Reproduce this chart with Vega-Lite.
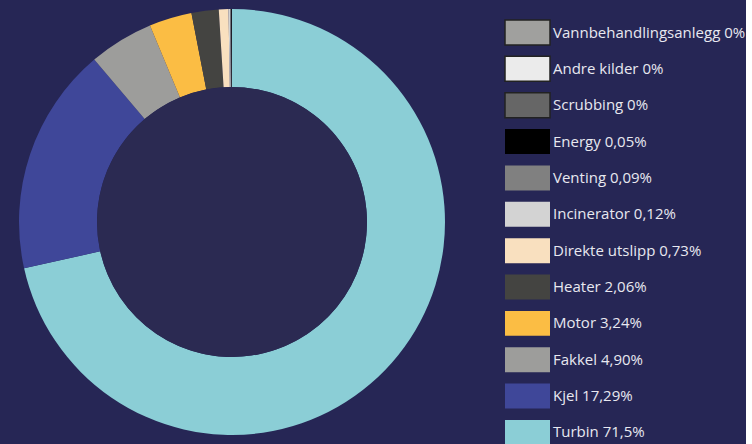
{
  "$schema": "https://vega.github.io/schema/vega-lite/v6.json",
  "width": 464,
  "height": 444,
  "padding": 0,
  "autosize": {"type": "pad"},
  "background": "#262655",
  "config": {"view": {"stroke": null}},
  "layer": [
    {
      "data": {"values": [
        {"label": "Turbin 71,5%", "value": 71.5, "idx": 1},
        {"label": "Kjel 17,29%", "value": 17.29, "idx": 2},
        {"label": "Fakkel 4,90%", "value": 4.90, "idx": 3},
        {"label": "Motor 3,24%", "value": 3.24, "idx": 4},
        {"label": "Heater 2,06%", "value": 2.06, "idx": 5},
        {"label": "Direkte utslipp 0,73%", "value": 0.73, "idx": 6},
        {"label": "Incinerator 0,12%", "value": 0.12, "idx": 7},
        {"label": "Venting 0,09%", "value": 0.09, "idx": 8},
        {"label": "Energy 0,05%", "value": 0.05, "idx": 9},
        {"label": "Scrubbing 0%", "value": 0, "idx": 10},
        {"label": "Andre kilder 0%", "value": 0, "idx": 11},
        {"label": "Vannbehandlingsanlegg 0%", "value": 0, "idx": 12}
      ]},
      "mark": {"type": "arc", "outerRadius": 213, "innerRadius": 135},
      "encoding": {
        "theta": {"field": "value", "type": "quantitative", "stack": true},
        "order": {"field": "idx", "type": "quantitative", "sort": "ascending"},
        "color": {
          "field": "label",
          "type": "nominal",
          "scale": {
            "domain": ["Vannbehandlingsanlegg 0%", "Andre kilder 0%", "Scrubbing 0%", "Energy 0,05%", "Venting 0,09%", "Incinerator 0,12%", "Direkte utslipp 0,73%", "Heater 2,06%", "Motor 3,24%", "Fakkel 4,90%", "Kjel 17,29%", "Turbin 71,5%"],
            "range": ["#a0a09e", "#ebebeb", "#666666", "#000000", "#808080", "#d3d3d3", "#f9e0bf", "#444441", "#fbbd44", "#9d9d9b", "#3f4799", "#8bced6"]
          },
          "legend": {
            "title": null,
            "orient": "none",
            "legendX": 508.5,
            "legendY": 13.5,
            "padding": 0,
            "symbolType": "M-1.25,-0.694H1.25V0.694H-1.25Z",
            "symbolSize": 1296,
            "symbolStrokeWidth": 0,
            "labelFont": "Open Sans",
            "labelFontSize": 15,
            "labelColor": "#e8e8f0",
            "labelOffset": 6.5,
            "labelLimit": 300,
            "rowPadding": 1.36,
            "symbolOpacity": 1,
            "encode": {
              "symbols": {
                "update": {
                  "stroke": [
                    {"test": "indexof(['Vannbehandlingsanlegg 0%','Andre kilder 0%','Scrubbing 0%'], datum.value) >= 0", "value": "#222222"},
                    {"value": "transparent"}
                  ],
                  "strokeWidth": {"value": 1.5}
                }
              }
            }
          }
        }
      }
    },
    {
      "data": {"values": [{"part": "inner"}]},
      "mark": {"type": "arc", "theta": 0, "theta2": 6.2832, "innerRadius": 0, "outerRadius": 135, "fill": "#2b2a52"},
      "encoding": {}
    }
  ]
}
